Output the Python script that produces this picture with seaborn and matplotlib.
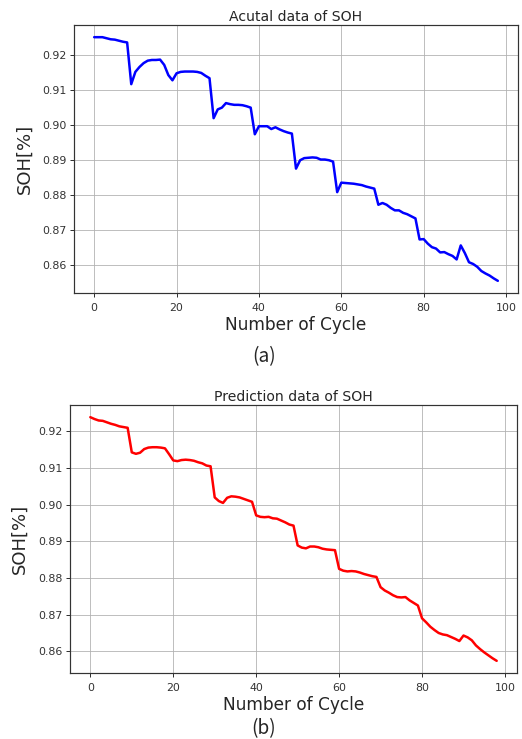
import matplotlib
matplotlib.use("Agg")
import matplotlib.pyplot as plt
import seaborn as sns
import pandas as pd

cycles = list(range(99))

actual_soh = [
    0.9251, 0.9251, 0.9251, 0.9248, 0.9245, 0.9244, 0.9241, 0.9238, 0.9236, 0.9117,
    0.9152, 0.9166, 0.9177, 0.9184, 0.9186, 0.9186, 0.9187, 0.9172, 0.9143, 0.9128,
    0.9148, 0.9152, 0.9153, 0.9153, 0.9153, 0.9152, 0.9149, 0.9141, 0.9134, 0.9020,
    0.9045, 0.9050, 0.9063, 0.9060, 0.9058, 0.9058, 0.9057, 0.9054, 0.9050, 0.8974,
    0.8997, 0.8997, 0.8997, 0.8989, 0.8994, 0.8988, 0.8983, 0.8979, 0.8976, 0.8876,
    0.8900, 0.8906, 0.8907, 0.8908, 0.8907, 0.8902, 0.8902, 0.8900, 0.8896, 0.8809,
    0.8836, 0.8835, 0.8834, 0.8833, 0.8831, 0.8829, 0.8825, 0.8822, 0.8819, 0.8773,
    0.8778, 0.8773, 0.8764, 0.8757, 0.8757, 0.8750, 0.8746, 0.8740, 0.8734, 0.8674,
    0.8675, 0.8662, 0.8652, 0.8648, 0.8637, 0.8638, 0.8632, 0.8627, 0.8617, 0.8657,
    0.8635, 0.8609, 0.8604, 0.8596, 0.8584, 0.8577, 0.8571, 0.8563, 0.8556,
]

predicted_soh = [
    0.9239, 0.9234, 0.9230, 0.9229, 0.9225, 0.9221, 0.9218, 0.9214, 0.9212, 0.9210,
    0.9143, 0.9139, 0.9142, 0.9152, 0.9156, 0.9157, 0.9157, 0.9156, 0.9154, 0.9138,
    0.9121, 0.9119, 0.9122, 0.9123, 0.9122, 0.9120, 0.9116, 0.9113, 0.9107, 0.9105,
    0.9020, 0.9010, 0.9005, 0.9019, 0.9023, 0.9022, 0.9020, 0.9016, 0.9012, 0.9008,
    0.8971, 0.8967, 0.8966, 0.8967, 0.8963, 0.8962, 0.8957, 0.8952, 0.8946, 0.8943,
    0.8889, 0.8883, 0.8881, 0.8886, 0.8886, 0.8884, 0.8880, 0.8878, 0.8877, 0.8876,
    0.8825, 0.8820, 0.8818, 0.8819, 0.8818, 0.8815, 0.8811, 0.8808, 0.8805, 0.8803,
    0.8775, 0.8766, 0.8760, 0.8753, 0.8748, 0.8747, 0.8748, 0.8739, 0.8732, 0.8725,
    0.8690, 0.8679, 0.8667, 0.8658, 0.8650, 0.8646, 0.8644, 0.8639, 0.8634, 0.8628,
    0.8643, 0.8638, 0.8630, 0.8616, 0.8606, 0.8597, 0.8589, 0.8581, 0.8574,
]

df = pd.DataFrame({"cycle": cycles, "actual": actual_soh, "pred": predicted_soh})

sns.set_style("ticks")
plt.rcParams["font.family"] = ["DejaVu Sans"]
plt.rcParams["axes.edgecolor"] = "#333333"
plt.rcParams["xtick.color"] = "#333333"
plt.rcParams["ytick.color"] = "#333333"
plt.rcParams["text.color"] = "#262626"

W, H = 522, 739
fig = plt.figure(figsize=(W / 72, H / 72), dpi=72)

ax1 = fig.add_axes([74 / W, 1 - 293 / H, 444 / W, 268 / H])
ax2 = fig.add_axes([70 / W, 1 - 673 / H, 447 / W, 268 / H])

panels = [
    (ax1, "actual", "blue", "Acutal data of SOH", 9),
    (ax2, "pred", "red", "Prediction data of SOH", 10),
]

for ax, col, colour, title, ypad in panels:
    sns.lineplot(data=df, x="cycle", y=col, ax=ax, color=colour, linewidth=2.5)
    ax.grid(True, color="#b0b0b0", linewidth=1.0, alpha=0.8)
    ax.set_axisbelow(True)
    ax.set_title(title, fontsize=14, color="#262626", pad=4)
    ax.set_xlabel("Number of Cycle", fontsize=17, labelpad=3)
    ax.set_ylabel("SOH[%]", fontsize=18, labelpad=ypad)
    ax.set_xticks([0, 20, 40, 60, 80, 100])
    ax.set_yticks([0.86, 0.87, 0.88, 0.89, 0.90, 0.91, 0.92])
    ax.set_yticklabels(["0.86", "0.87", "0.88", "0.89", "0.90", "0.91", "0.92"])
    ax.tick_params(labelsize=11, length=4, width=1)
    ax.tick_params(axis="x", pad=6)
    for s in ax.spines.values():
        s.set_linewidth(1.2)

fig.text(264 / W, 1 - 357 / H, "(a)", ha="center", va="center",
         fontsize=19, family=["Noto Sans CJK JP", "DejaVu Sans"], color="#262626")
fig.text(264 / W, 1 - 729 / H, "(b)", ha="center", va="center",
         fontsize=19, family=["Noto Sans CJK JP", "DejaVu Sans"], color="#262626")

fig.savefig("out.png", dpi=72)
